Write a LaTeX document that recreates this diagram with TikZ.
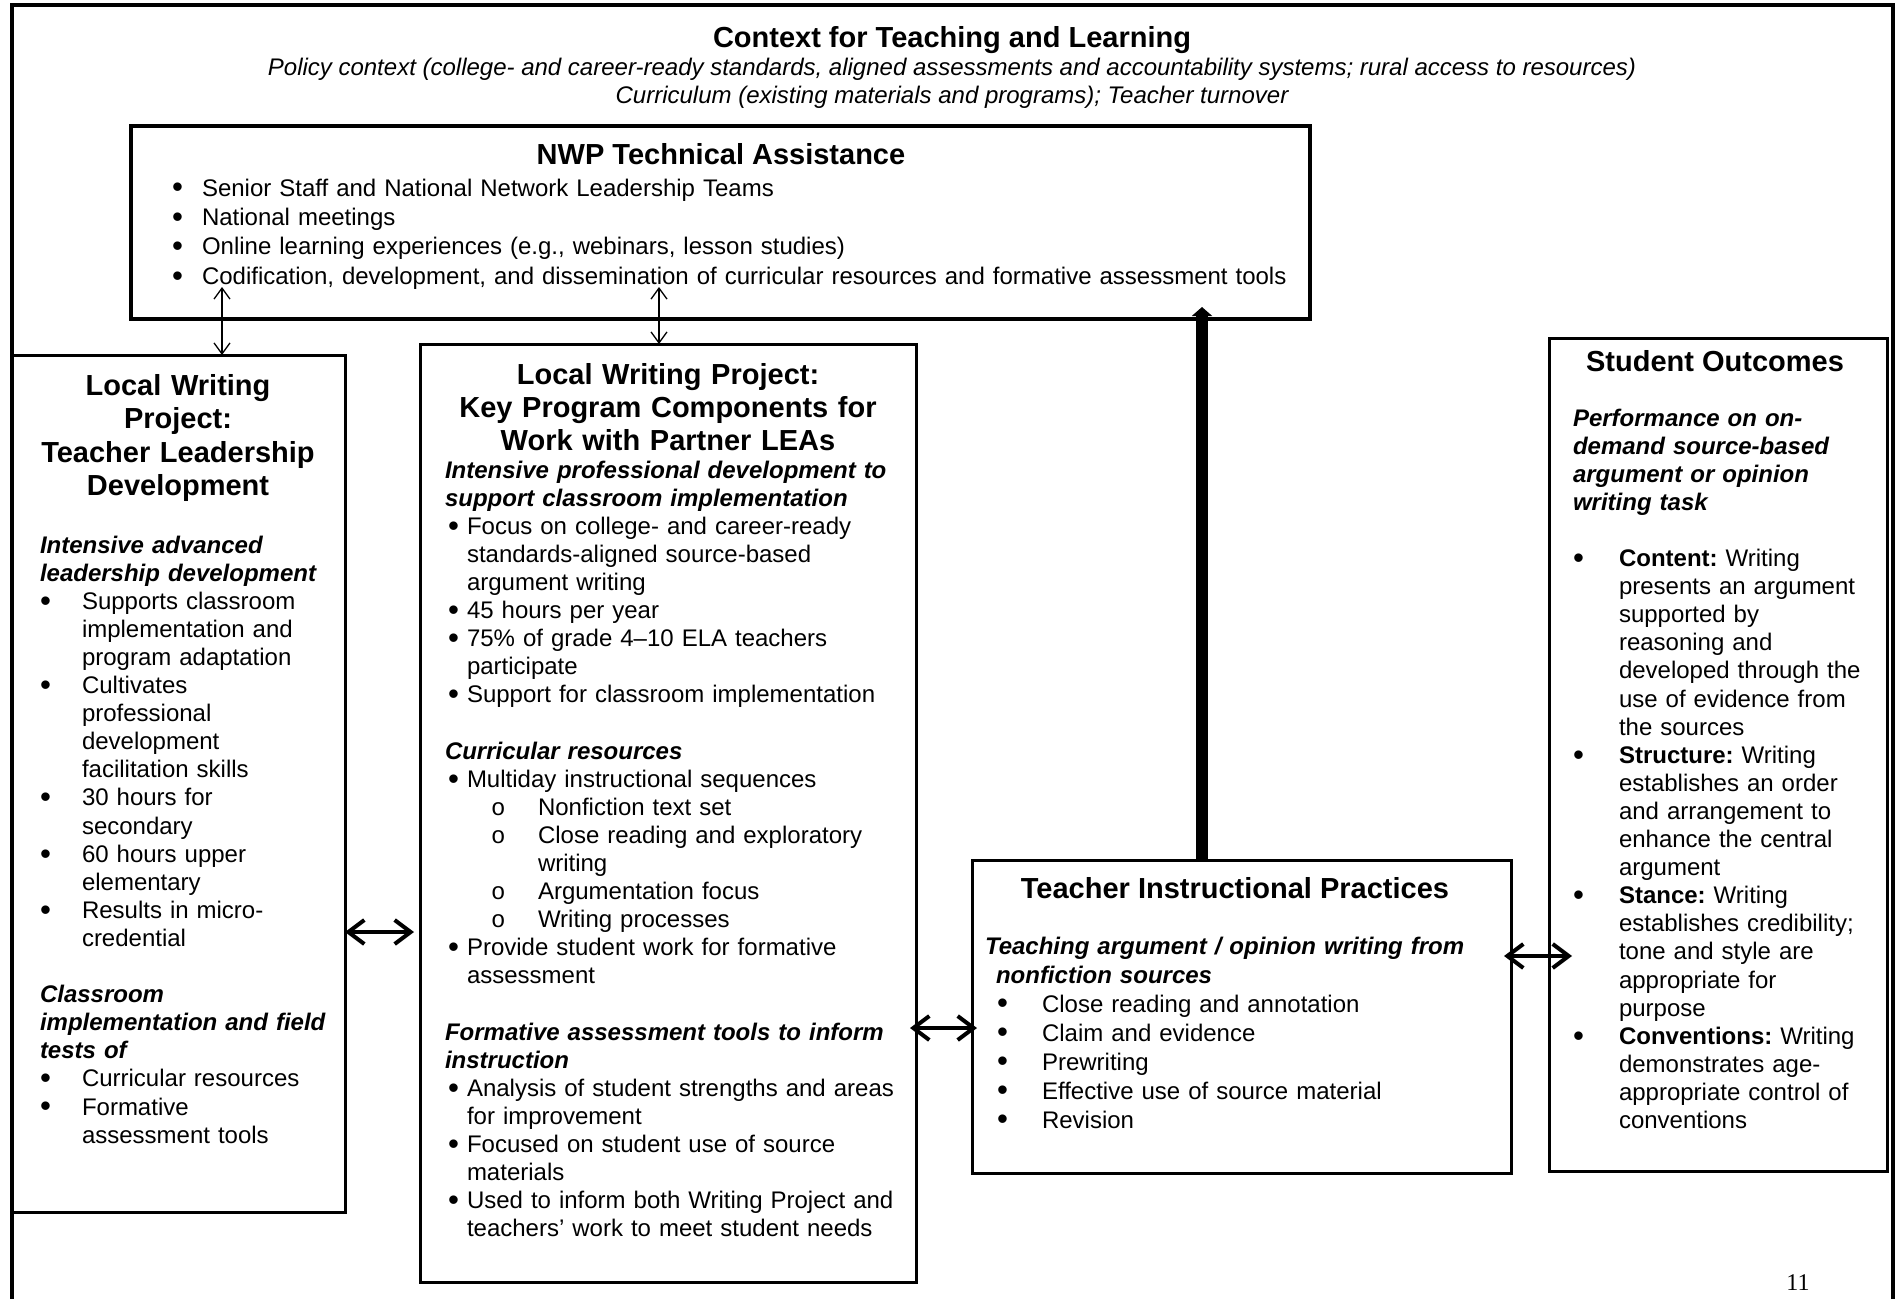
\documentclass[tikz,border=0pt]{standalone}
\usepackage{fontspec}
\setmainfont{Liberation Sans}
\newfontfamily\numfont{Liberation Serif}
\newfontfamily\circfont{Liberation Mono}
\usetikzlibrary{arrows.meta}
\newcommand\bul{\raisebox{-0.08em}{\scalebox{1.3}{\textbullet}}}
\newcommand\BL[3]{\makebox[#2pt][l]{\hspace*{#1pt}\bul}#3\par}
\newcommand\OL[3]{\makebox[#2pt][l]{\hspace*{#1pt}{\circfont o}}#3\par}
\newcommand\CL[2]{\hspace*{#1pt}#2\par}
\newcommand\EL{\mbox{}\par}
\newcommand\bi[1]{\textbf{\textit{#1}}}
\begin{document}
\begin{tikzpicture}[x=1pt,y=-1pt,
  box/.style={draw, line width=3pt, inner sep=0pt, outer sep=0pt, anchor=north west},
  txt/.style={inner sep=0pt, outer sep=0pt, align=left, anchor=base west, font=\fontsize{24}{28.1}\selectfont},
  ttl/.style={inner sep=0pt, outer sep=0pt, align=center, anchor=base, font=\fontsize{29}{33.5}\selectfont\bfseries},
  ctx/.style={inner sep=0pt, outer sep=0pt, anchor=base, font=\fontsize{24}{28}\selectfont\itshape},
  thinarr/.style={line width=1.3pt, {Straight Barb[length=11pt,width=16pt]}-{Straight Barb[length=11pt,width=16pt]}},
  dblarr/.style={line width=4pt, {Straight Barb[length=16pt,width=24pt]}-{Straight Barb[length=16pt,width=24pt]}},
  bigarr/.style={line width=12pt, -{Triangle[length=9pt,width=20pt]}}]
\useasboundingbox (0,0) rectangle (1900,1298);
\fill[white] (0,0) rectangle (1900,1298);
% outer frame (cropped at bottom)
\draw[line width=4pt] (12,1300) -- (12,5) -- (1893,5) -- (1893,1300);

% header
\node[ttl] (ctitle) at (952,48) {Context for Teaching and Learning};
\node[ctx] (ctx1) at (952,75) {Policy context (college- and career-ready standards, aligned assessments and accountability systems; rural access to resources)};
\node[ctx] (ctx2) at (952,103) {Curriculum (existing materials and programs); Teacher turnover};

% boxes
\node[box, line width=4pt, minimum width=1179pt, minimum height=193pt] (nwp) at (131,126) {};
\node[box, minimum width=333pt, minimum height=857pt] (lb) at (12,355) {};
\node[box, minimum width=496pt, minimum height=938pt] (mb) at (420,344) {};
\node[box, minimum width=539pt, minimum height=313pt] (tb) at (972,860) {};
\node[box, minimum width=338pt, minimum height=833pt] (sb) at (1549,338) {};

% NWP
\node[ttl] (nwpt) at (721,164) {NWP Technical Assistance};
\node[txt, text width=1120pt] (nwpb) at (172,196) {\fontsize{24}{29.4}\selectfont
\BL{0}{30}{Senior Staff and National Network Leadership Teams}
\BL{0}{30}{National meetings}
\BL{0}{30}{Online learning experiences (e.g., webinars, lesson studies)}
\BL{0}{30}{Codification, development, and dissemination of curricular resources and formative assessment tools}
};

% Left box
\node[ttl, text width=330pt] (lbt) at (178,395) {Local Writing\\Project:\\Teacher Leadership\\Development};
\node[txt, text width=300pt] (lbb) at (40,553) {%
\CL{0}{\bi{Intensive advanced}}
\CL{0}{\bi{leadership development}}
\BL{0}{42}{Supports classroom}
\CL{42}{implementation and}
\CL{42}{program adaptation}
\BL{0}{42}{Cultivates}
\CL{42}{professional}
\CL{42}{development}
\CL{42}{facilitation skills}
\BL{0}{42}{30 hours for}
\CL{42}{secondary}
\BL{0}{42}{60 hours upper}
\CL{42}{elementary}
\BL{0}{42}{Results in micro-}
\CL{42}{credential}
\EL
\CL{0}{\bi{Classroom}}
\CL{0}{\bi{implementation and field}}
\CL{0}{\bi{tests of}}
\BL{0}{42}{Curricular resources}
\BL{0}{42}{Formative}
\CL{42}{assessment tools}
};

% Middle box
\node[ttl, text width=490pt, font=\fontsize{29}{33}\selectfont\bfseries] (mbt) at (668,384) {Local Writing Project:\\Key Program Components for\\Work with Partner LEAs};
\node[txt, text width=465pt] (mbb) at (445,478) {%
\CL{0}{\bi{Intensive professional development to}}
\CL{0}{\bi{support classroom implementation}}
\BL{3}{22}{Focus on college- and career-ready}
\CL{22}{standards-aligned source-based}
\CL{22}{argument writing}
\BL{3}{22}{45 hours per year}
\BL{3}{22}{75\% of grade 4–10 ELA teachers}
\CL{22}{participate}
\BL{3}{22}{Support for classroom implementation}
\EL
\CL{0}{\bi{Curricular resources}}
\BL{3}{22}{Multiday instructional sequences}
\OL{46}{93}{Nonfiction text set}
\OL{46}{93}{Close reading and exploratory}
\CL{93}{writing}
\OL{46}{93}{Argumentation focus}
\OL{46}{93}{Writing processes}
\BL{3}{22}{Provide student work for formative}
\CL{22}{assessment}
\EL
\CL{0}{\bi{Formative assessment tools to inform}}
\CL{0}{\bi{instruction}}
\BL{3}{22}{Analysis of student strengths and areas}
\CL{22}{for improvement}
\BL{3}{22}{Focused on student use of source}
\CL{22}{materials}
\BL{3}{22}{Used to inform both Writing Project and}
\CL{22}{teachers’ work to meet student needs}
};

% Teacher box
\node[ttl] (tbt) at (1235,898) {Teacher Instructional Practices};
\node[txt, text width=520pt] (tbb) at (985,954) {\fontsize{24}{29}\selectfont
\CL{0}{\bi{Teaching argument / opinion writing from}}
\CL{11}{\bi{nonfiction sources}}
\BL{12}{57}{Close reading and annotation}
\BL{12}{57}{Claim and evidence}
\BL{12}{57}{Prewriting}
\BL{12}{57}{Effective use of source material}
\BL{12}{57}{Revision}
};

% Student box
\node[ttl] (sbt) at (1715,371) {Student Outcomes};
\node[txt, text width=310pt] (sbb) at (1573,426) {%
\CL{0}{\bi{Performance on on-}}
\CL{0}{\bi{demand source-based}}
\CL{0}{\bi{argument or opinion}}
\CL{0}{\bi{writing task}}
\EL
\BL{0}{46}{\textbf{Content:}~Writing}
\CL{46}{presents an argument}
\CL{46}{supported by}
\CL{46}{reasoning and}
\CL{46}{developed through the}
\CL{46}{use of evidence from}
\CL{46}{the sources}
\BL{0}{46}{\textbf{Structure:}~Writing}
\CL{46}{establishes an order}
\CL{46}{and arrangement to}
\CL{46}{enhance the central}
\CL{46}{argument}
\BL{0}{46}{\textbf{Stance:}~Writing}
\CL{46}{establishes credibility;}
\CL{46}{tone and style are}
\CL{46}{appropriate for}
\CL{46}{purpose}
\BL{0}{46}{\textbf{Conventions:}~Writing}
\CL{46}{demonstrates age-}
\CL{46}{appropriate control of}
\CL{46}{conventions}
};

% page number
\node[anchor=base, inner sep=0pt, font=\numfont\fontsize{24}{28}\selectfont] (pg) at (1798,1290) {11};

% connectors
\coordinate (t1) at (222,287);
\coordinate (t2) at (659,287);
\draw[thinarr] (t1) -- (t1 |- lb.north);
\draw[thinarr] (t2) -- (t2 |- mb.north);
\coordinate (h1) at (0,932);
\coordinate (h2) at (0,1028);
\coordinate (h3) at (0,956);
\coordinate (bx) at (1202,0);
\draw[dblarr, shorten >=6pt] (lb.east |- h1) -- (mb.west |- h1);
\draw[dblarr, shorten <=-6pt, shorten >=-5pt] (mb.east |- h2) -- (tb.west |- h2);
\draw[dblarr, shorten <=-7pt, shorten >=-23pt] (tb.east |- h3) -- (sb.west |- h3);
\draw[bigarr, shorten >=-12pt] (tb.north -| bx) -- (nwp.south -| bx);
\end{tikzpicture}
\end{document}
